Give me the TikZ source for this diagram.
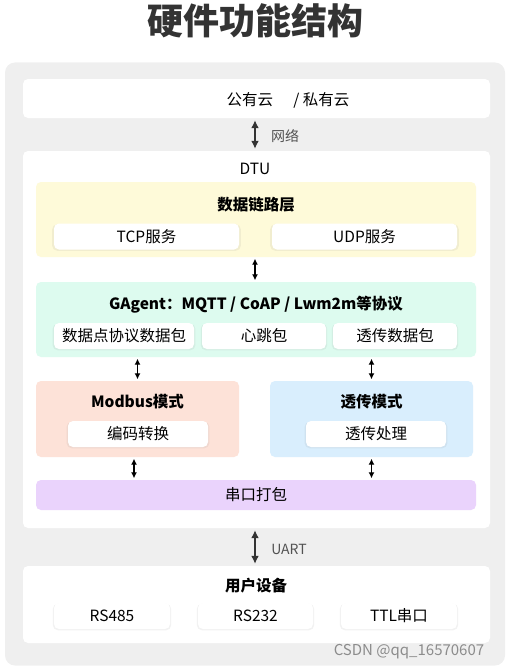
\documentclass[tikz,border=0pt]{standalone}
\usepackage{fontspec}
\setmainfont{Noto Sans CJK SC}
\usetikzlibrary{arrows.meta,shadows}

\definecolor{panelgray}{HTML}{EFEFEF}
\definecolor{inkgray}{HTML}{333333}
\definecolor{linkyellow}{HTML}{FEFAD9}
\definecolor{gagentmint}{HTML}{DDFBEF}
\definecolor{modbuspeach}{HTML}{FDE2D8}
\definecolor{passblue}{HTML}{D9EEFD}
\definecolor{serialpurple}{HTML}{EAD3FC}

\tikzset{
  box/.style={rounded corners=5pt, inner sep=0pt, draw=none},
  subbox/.style={box, fill=white, minimum height=26pt,
    drop shadow={opacity=0.1, shadow xshift=0pt, shadow yshift=-1pt, shadow scale=1.02},
    font=\fontsize{15.5}{16}\selectfont},
  head/.style={font=\bfseries\fontsize{15.5}{16}\selectfont, text=black},
  link/.style={{Latex[length=6pt,width=6pt]}-{Latex[length=6pt,width=6pt]},
    line width=1.4pt, shorten <=1.5pt, shorten >=1.5pt},
  biglink/.style={{Latex[length=8pt,width=8pt]}-{Latex[length=8pt,width=8pt]},
    line width=2pt, inkgray, shorten <=2pt, shorten >=2pt},
  note/.style={font=\fontsize{14}{14}\selectfont, text=inkgray!85}
}

\begin{document}
\begin{tikzpicture}[x=1pt,y=-1pt]
\useasboundingbox (0,0) rectangle (510,669);

\node[font=\bfseries\fontsize{36}{36}\selectfont, text=inkgray] (title) at (255,21) {硬件功能结构};
\node[box, rounded corners=10pt, fill=panelgray, minimum width=500pt, minimum height=603pt] (panel) at (255,364) {};

% cloud
\node[box, fill=white, minimum width=467pt, minimum height=39pt] (cloud) at (256.5,98.5) {};
\node[font=\fontsize{15.5}{16}\selectfont] (cloudtxt) at (288,100) {公有云\hspace{1.3em}/ 私有云};

% DTU
\node[box, fill=white, minimum width=467pt, minimum height=377pt] (dtu) at (256.5,339.5) {};
\node[font=\fontsize{15.5}{16}\selectfont] (dtutxt) at (255,169) {DTU};

\node[box, fill=linkyellow, minimum width=440pt, minimum height=75pt] (datalink) at (256,219.5) {};
\node[head] (datalinktxt) at (256,205) {数据链路层};
\node[subbox, minimum width=185pt] (tcp) at (146.5,236.5) {TCP服务};
\node[subbox, minimum width=185pt] (udp) at (364.5,236.5) {UDP服务};

\node[box, fill=gagentmint, minimum width=440pt, minimum height=75pt] (gagent) at (256,319.5) {};
\node[head] (gagenttxt) at (256,305) {GAgent：MQTT / CoAP / Lwm2m等协议};
\node[subbox, minimum width=140pt] (dppkt) at (124,336) {数据点协议数据包};
\node[subbox, minimum width=124pt] (heart) at (264,336) {心跳包};
\node[subbox, minimum width=124pt] (passpkt) at (395,336) {透传数据包};

\node[box, fill=modbuspeach, minimum width=203pt, minimum height=76pt] (modbus) at (137.5,419) {};
\node[head] (modbustxt) at (137.5,402) {Modbus模式};
\node[subbox, minimum width=140pt] (encode) at (138,434) {编码转换};

\node[box, fill=passblue, minimum width=203pt, minimum height=76pt] (pass) at (371.5,419) {};
\node[head] (passtxt) at (371.5,402) {透传模式};
\node[subbox, minimum width=140pt] (passproc) at (376,434) {透传处理};

\node[box, fill=serialpurple, minimum width=440pt, minimum height=30pt,
  font=\fontsize{15.5}{16}\selectfont] (serial) at (256,495) {串口打包};

% user devices
\node[box, fill=white, minimum width=467pt, minimum height=77pt] (user) at (256.5,604.5) {};
\node[head] (usertxt) at (256,586) {用户设备};
\node[subbox, minimum width=116pt] (rs485) at (112,616) {RS485};
\node[subbox, minimum width=115pt] (rs232) at (255.5,616) {RS232};
\node[subbox, minimum width=116pt] (ttl) at (399,616) {TTL串口};

\draw[biglink] (cloud.south -| title.south) -- (dtu.north -| title.south);
\node[note] (nettxt) at (285,136) {网络};
\draw[link] (datalink.south -| title.south) -- (gagent.north -| title.south);
\draw[link] (modbus.north |- gagent.south) -- (modbus.north);
\draw[link] (pass.north |- gagent.south) -- (pass.north);
\draw[link] ([xshift=-3.5pt]modbus.south) -- ([xshift=-3.5pt]modbus.south |- serial.north);
\draw[link] (pass.south) -- (pass.south |- serial.north);
\draw[biglink] (dtu.south -| title.south) -- (user.north -| title.south);
\node[note] (uarttxt) at (289,549) {UART};

\node[font=\fontsize{15}{15}\selectfont, text=black!45] (mark) at (409,652) {CSDN @qq\_16570607};
\end{tikzpicture}
\end{document}
